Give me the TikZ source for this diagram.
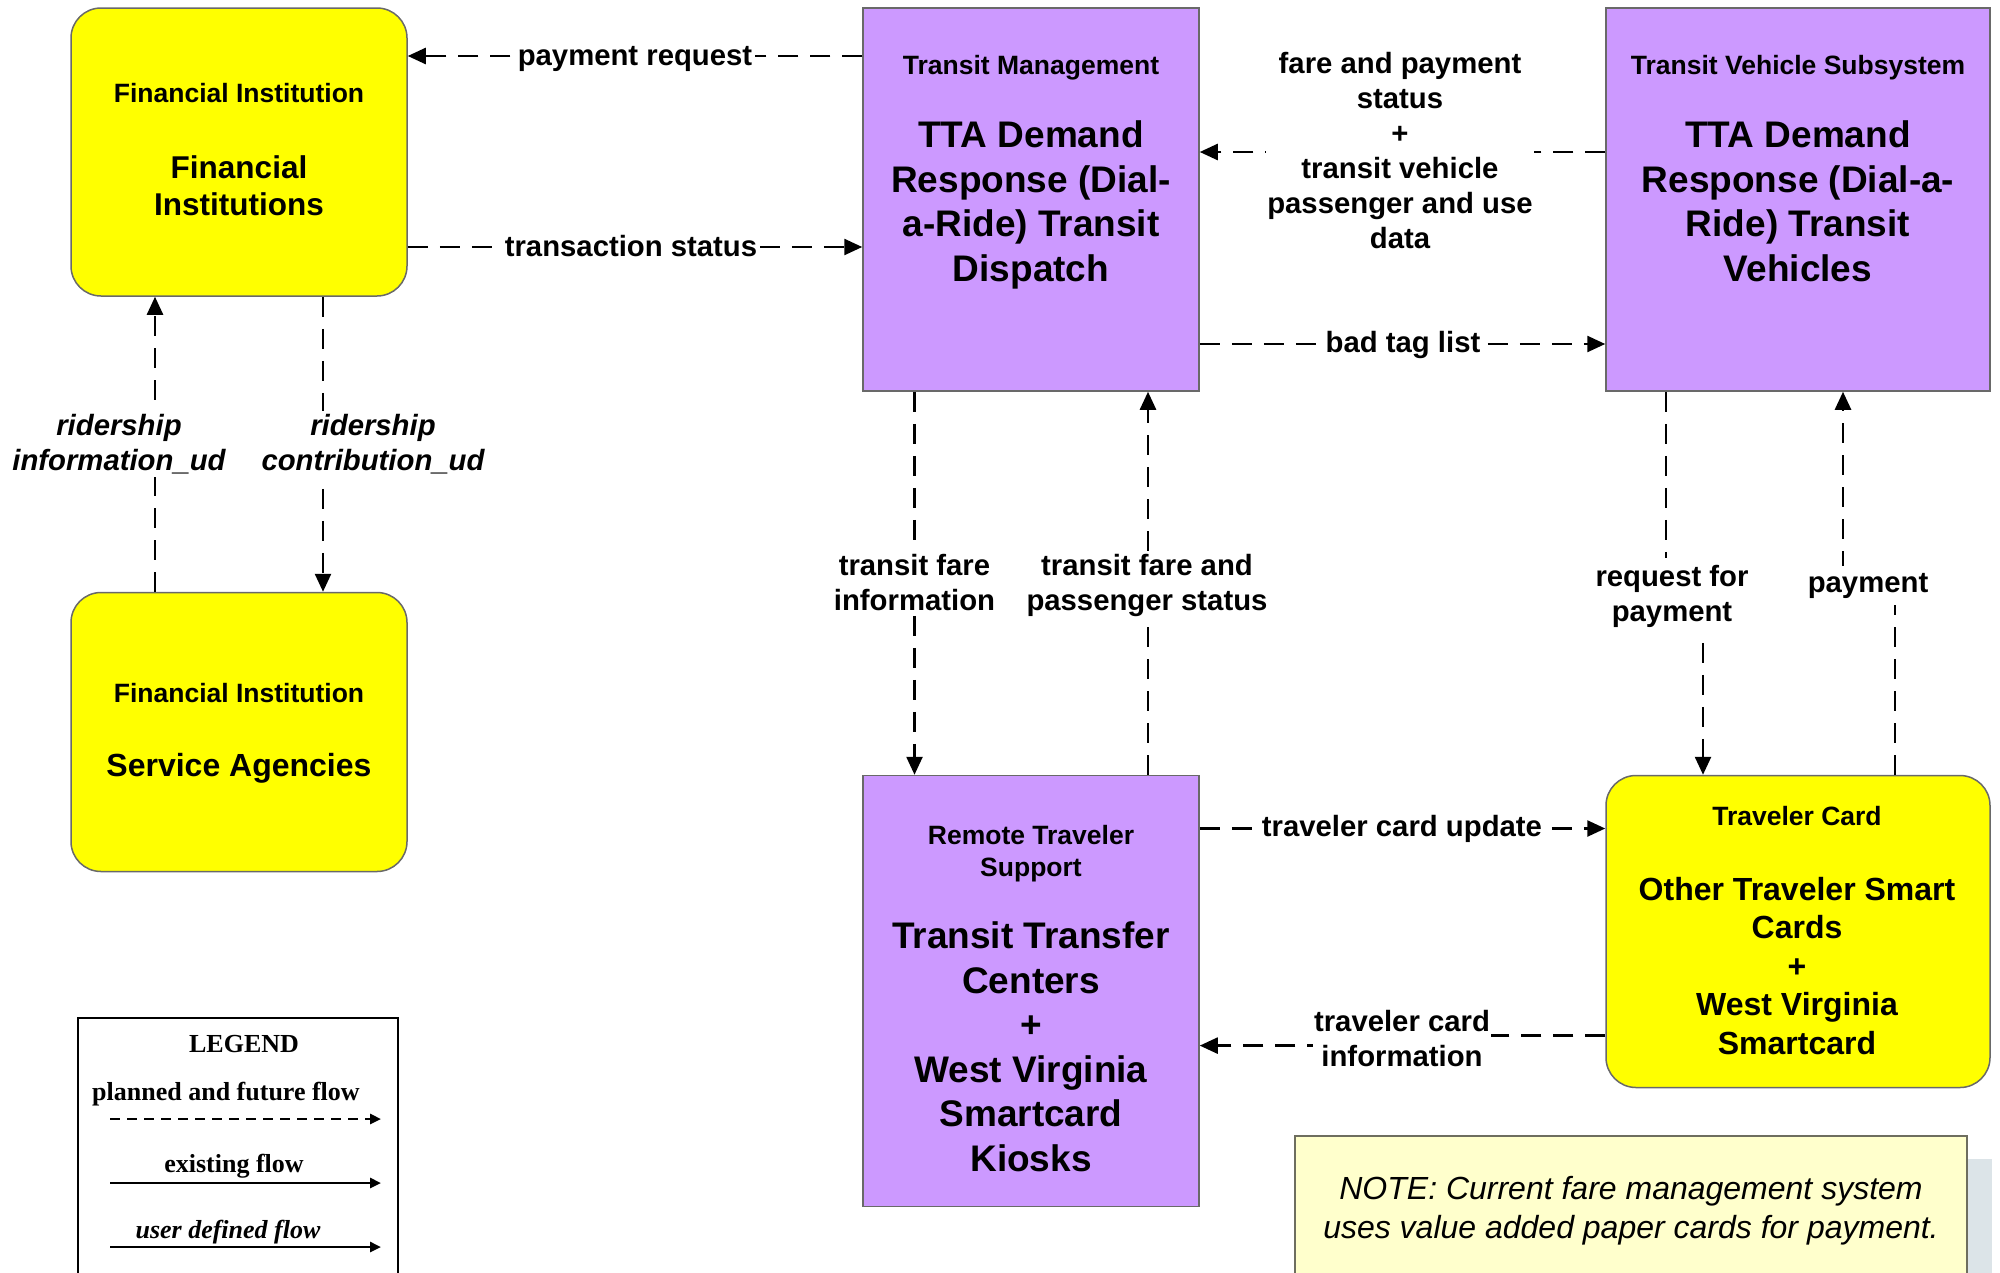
\documentclass[tikz,border=0pt]{standalone}
\usepackage{fontspec}
\setmainfont{Liberation Sans}
\newfontfamily\lserif{Liberation Serif}
\usetikzlibrary{arrows.meta}
\definecolor{purp}{RGB}{204,153,255}
\definecolor{yel}{RGB}{255,255,0}
\definecolor{notefill}{RGB}{255,255,204}
\definecolor{shadowc}{RGB}{220,228,232}
\definecolor{bordc}{RGB}{105,105,105}
\definecolor{noteb}{RGB}{110,110,95}
\begin{document}
\begin{tikzpicture}[x=1pt,y=-1pt,
  pbox/.style={draw=bordc, line width=1.5pt, fill=purp, inner sep=0pt},
  ybox/.style={draw=bordc, line width=1.5pt, fill=yel, inner sep=0pt, rounded corners=30pt},
  flow/.style={line width=2.5pt, dash pattern=on 20pt off 12pt, -{Triangle[length=18pt,width=16pt]}},
  small/.style={font=\bfseries\fontsize{26.5}{32.5}\selectfont, anchor=base, align=center, inner sep=0pt},
  big/.style={font=\bfseries\fontsize{37}{44.6}\selectfont, anchor=base, align=center, inner sep=0pt},
  mid/.style={font=\bfseries\fontsize{32}{38.4}\selectfont, anchor=base, align=center, inner sep=0pt},
  lbl/.style={font=\bfseries\fontsize{29.3}{35}\selectfont, anchor=base, align=center, fill=white, inner sep=3pt},
  ilbl/.style={lbl, font=\bfseries\itshape\fontsize{29.3}{35}\selectfont},
  lgd/.style={font=\lserif\bfseries\fontsize{26}{30}\selectfont, anchor=base, inner sep=0pt},
  lgdi/.style={font=\lserif\bfseries\itshape\fontsize{26}{30}\selectfont, anchor=base, inner sep=0pt},
  lgdline/.style={line width=2.5pt, -{Triangle[length=11pt,width=10pt]}},
  notetxt/.style={font=\itshape\fontsize{32}{38.5}\selectfont, anchor=base, align=center, inner sep=0pt},
]
\useasboundingbox (0,0) rectangle (2000,1272);

% boxes
\node[ybox, minimum width=336pt, minimum height=288pt] (fi) at (239,152) {};
\node[ybox, minimum width=336pt, minimum height=279pt] (sa) at (239,732) {};
\node[pbox, minimum width=336pt, minimum height=383pt] (tm) at (1031,199.5) {};
\node[pbox, minimum width=384pt, minimum height=383pt] (tvs) at (1798,199.5) {};
\node[pbox, minimum width=336pt, minimum height=431pt] (rts) at (1031,991) {};
\node[ybox, minimum width=384pt, minimum height=312pt] (tc) at (1798,931.5) {};

% box texts (anchor=base is the baseline of the last line)
\node[small] (fit) at (239,102.5) {Financial Institution};
\node[mid, font=\bfseries\fontsize{31.5}{37}\selectfont] (fin) at (239,215) {Financial\\Institutions};
\node[small] (sat) at (239,702) {Financial Institution};
\node[mid] (san) at (239,776.5) {Service Agencies};
\node[small] (tmt) at (1031,74.5) {Transit Management};
\node[big] (tmn) at (1031,281.5) {TTA Demand\\Response (Dial-\\a-Ride) Transit\\Dispatch};
\node[small] (tvst) at (1798,74.5) {Transit Vehicle Subsystem};
\node[big] (tvsn) at (1798,281.5) {TTA Demand\\Response (Dial-a-\\Ride) Transit\\Vehicles};
\node[small] (rtst) at (1031,876.5) {Remote Traveler\\Support};
\node[big] (rtsn) at (1031,1171.4) {Transit Transfer\\Centers\\+\\West Virginia\\Smartcard\\Kiosks};
\node[small] (tct) at (1797,825.5) {Traveler Card};
\node[mid] (tcn) at (1797,1054.1) {Other Traveler Smart\\Cards\\+\\West Virginia\\Smartcard};

% connectors
\draw[flow] (tm.west |- 0,56) -- (fi.east |- 0,56);
\draw[flow] (fi.east |- 0,247) -- (tm.west |- 0,247);
\draw[flow] (sa.north -| 155,0) -- (fi.south -| 155,0);
\draw[flow] (fi.south -| 323,0) -- (sa.north -| 323,0);
\draw[flow] (tm.south -| 914.5,0) -- (rts.north -| 914.5,0);
\draw[flow] (rts.north -| 1148,0) -- (tm.south -| 1148,0);
\draw[flow] (tvs.west |- 0,152) -- (tm.east |- 0,152);
\draw[flow] (tm.east |- 0,344) -- (tvs.west |- 0,344);
\draw[flow] (tvs.south -| 1666,0) -- (1666,600) -- (1703,600) -- (tc.north -| 1703,0);
\draw[flow] (tc.north -| 1895,0) -- (1895,585) -- (1843,585) -- (tvs.south -| 1843,0);
\draw[flow] (rts.east |- 0,828.5) -- (tc.west |- 0,828.5);
\draw[flow] (tc.west |- 0,1035.5) -- (1400,1035.5) -- (1400,1045.6) -- (rts.east |- 0,1045.6);

% connector labels
\node[lbl] (l1) at (635,65) {payment request};
\node[lbl] (l2) at (631,256) {transaction status};
\node[ilbl] (l3) at (119,470) {ridership\\information\_ud};
\node[ilbl] (l4) at (373,470) {ridership\\contribution\_ud};
\node[lbl] (l5) at (914.5,610) {transit fare\\information};
\node[lbl] (l6) at (1147,610) {transit fare and\\passenger status};
\node[lbl, inner sep=1pt] (l7) at (1400,248) {fare and payment\\status\\+\\transit vehicle\\passenger and use\\data};
\node[lbl] (l8) at (1403,352) {bad tag list};
\node[lbl, inner ysep=7pt] (l9) at (1672,621) {request for\\payment};
\node[lbl, inner ysep=7pt] (l10) at (1868,592) {payment};
\node[lbl] (l11) at (1402,836) {traveler card update};
\node[lbl, inner sep=1pt] (l12) at (1402,1066) {traveler card\\information};

% legend
\draw[line width=2.8pt] (78,1290) -- (78,1018) -- (398,1018) -- (398,1290);
\node[lgd] (lgt) at (244,1052) {LEGEND};
\node[lgd] (lgp) at (226,1100) {planned and future flow};
\coordinate (lpa) at (110,1119); \coordinate (lpb) at (381,1119);
\draw[lgdline, dash pattern=on 10pt off 7pt] (lpa) -- (lpb);
\node[lgd] (lge) at (234,1172) {existing flow};
\coordinate (lea) at (110,1183); \coordinate (leb) at (381,1183);
\draw[lgdline] (lea) -- (leb);
\node[lgdi] (lgu) at (228,1238) {user defined flow};
\coordinate (lua) at (110,1247); \coordinate (lub) at (381,1247);
\draw[lgdline] (lua) -- (lub);

% note
\fill[shadowc] (1968,1159) rectangle (1992,1290);
\draw[draw=noteb, line width=1.5pt, fill=notefill] (1295,1136) rectangle (1967,1290);
\node[notetxt] (nt) at (1631,1238) {NOTE: Current fare management system\\uses value added paper cards for payment.};
\end{tikzpicture}
\end{document}
